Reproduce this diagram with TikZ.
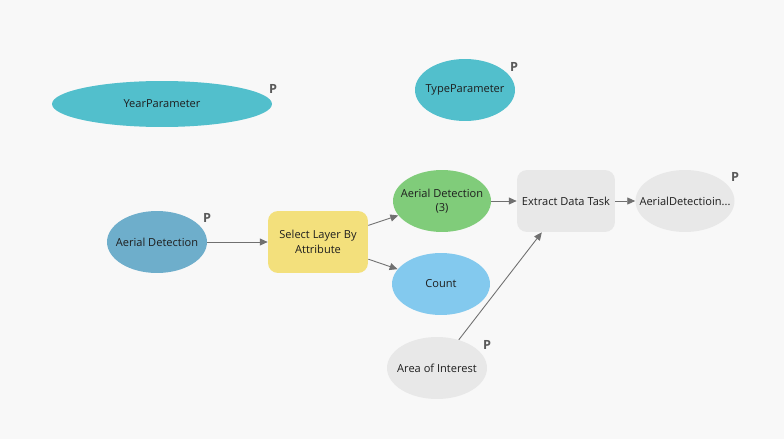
\documentclass[tikz,border=0pt]{standalone}
\usepackage{fontspec}
\setmainfont{Open Sans}
\usetikzlibrary{arrows.meta,shapes.geometric}
\definecolor{bgcol}{HTML}{F8F8F8}
\definecolor{paramcol}{HTML}{52BFCC}
\definecolor{inputcol}{HTML}{6EAECB}
\definecolor{toolcol}{HTML}{F3E07C}
\definecolor{outcol}{HTML}{80CC7A}
\definecolor{countcol}{HTML}{83C9EE}
\definecolor{greycol}{HTML}{E8E8E8}
\definecolor{linecol}{HTML}{707070}
\definecolor{txtcol}{HTML}{1E1E1E}
\tikzset{
  var/.style={ellipse,fill=#1,inner xsep=-12pt,inner ysep=-4pt,minimum width=2cm,minimum height=1.24cm,
    text=txtcol,font=\fontsize{6.3}{8.2}\selectfont,align=center},
  task/.style={rectangle,rounded corners=0.2cm,fill=#1,inner sep=0pt,minimum width=2cm,
    minimum height=1.24cm,text=txtcol,font=\fontsize{6.3}{8.2}\selectfont,align=center},
  plabel/.style={text=black!65,font=\fontsize{7.2}{8}\selectfont\bfseries,inner sep=0pt},
  flow/.style={draw=linecol,line width=0.5pt,-{Triangle[length=4.5pt,width=4pt]}},
}

\begin{document}
\begin{tikzpicture}[x=0.02cm,y=-0.02cm]
        \fill[bgcol] (0,0) rectangle (784,439);
        \useasboundingbox (0,0) rectangle (784,439);

        \node[var=paramcol,minimum width=4.4cm,minimum height=0.92cm] (year) at (162,104) {YearParameter};
        \node[var=paramcol] (type) at (465,90) {TypeParameter};
        \node[var=inputcol] (aerial) at (157,242) {Aerial Detection};
        \node[task=toolcol] (select) at (318,242) {Select Layer By\\Attribute};
        \node[var=outcol,minimum width=1.96cm] (aerial3) at (442,201) {Aerial Detection\\(3)};
        \node[var=countcol,minimum width=1.96cm] (count) at (441,284) {Count};
        \node[task=greycol,minimum width=1.96cm] (extract) at (566,201) {Extract Data Task};
        \node[var=greycol,minimum width=1.98cm] (result) at (685,201) {AerialDetectioin...};
        \node[var=greycol] (aoi) at (437,368) {Area of Interest};

        \node[plabel] (pyear) at (273,89) {P};
        \node[plabel] (ptype) at (514,67) {P};
        \node[plabel] (paerial) at (207,218) {P};
        \node[plabel] (presult) at (735,177) {P};
        \node[plabel] (paoi) at (487,345) {P};

        \draw[flow] (aerial) -- (select);
        \draw[flow] (select) -- (aerial3);
        \draw[flow] (select) -- (count);
        \draw[flow] (aerial3) -- (extract);
        \draw[flow] (extract) -- (result);
        \draw[flow] (aoi) -- (extract);
    \end{tikzpicture}
\end{document}
